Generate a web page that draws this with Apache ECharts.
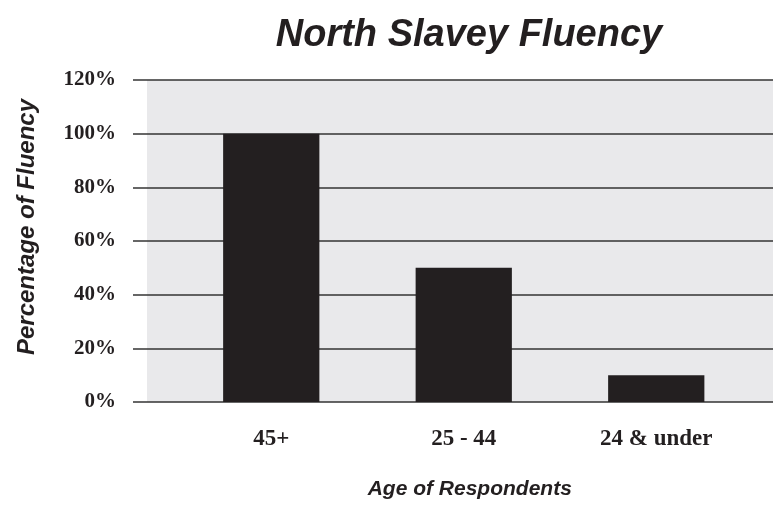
<!DOCTYPE html>
<html>
<head>
<meta charset="utf-8">
<script src="https://cdn.jsdelivr.net/npm/echarts@6/dist/echarts.min.js"></script>
<style>
  html, body { margin: 0; padding: 0; background: #fff; }
  #chart { width: 773px; height: 508px; }
</style>
</head>
<body>
<div id="chart"></div>
<script>
const categories = ['45+', '25 - 44', '24 & under'];
const fluency = [100, 50, 10];
const yTicks = [0, 20, 40, 60, 80, 100, 120];

const ink = '#231f20';
const labelFont = '"Liberation Serif", serif';
const titleFont = '"Liberation Sans", sans-serif';

const chart = echarts.init(document.getElementById('chart'));

const option = {
  animation: false,
  title: {
    text: 'North Slavey Fluency',
    left: 464,
    top: 12,
    textAlign: 'center',
    textStyle: { fontFamily: titleFont, fontSize: 38, fontWeight: 'bold', fontStyle: 'italic', color: ink }
  },
  grid: [
    // gray plot background
    { left: 147, right: 0, top: 80, bottom: 106, show: true, backgroundColor: '#e9e9eb', borderWidth: 0 },
    // horizontal rules + y labels
    { left: 133, right: 0, top: 80, bottom: 106 },
    // bars
    { left: 175, right: 20.5, top: 80, bottom: 106 }
  ],
  xAxis: [
    { gridIndex: 0, type: 'value', show: false },
    { gridIndex: 1, type: 'value', show: false },
    {
      gridIndex: 2, type: 'category', data: categories,
      axisLine: { show: false }, axisTick: { show: false },
      axisLabel: { margin: 26, fontFamily: labelFont, fontSize: 23, fontWeight: 'bold', color: ink },
      name: 'Age of Respondents', nameLocation: 'middle', nameGap: 77,
      nameTextStyle: { fontFamily: titleFont, fontSize: 21, fontWeight: 'bold', fontStyle: 'italic', color: ink, padding: [0, 0, 0, 12] }
    }
  ],
  yAxis: [
    { gridIndex: 0, type: 'value', show: false },
    {
      gridIndex: 1, type: 'value',
      min: yTicks[0], max: yTicks[yTicks.length - 1], interval: yTicks[1] - yTicks[0],
      axisLine: { show: false }, axisTick: { show: false },
      axisLabel: { margin: 17, fontFamily: labelFont, fontSize: 21, fontWeight: 'bold', color: ink, formatter: '{value}%' },
      splitLine: { lineStyle: { color: '#333', width: 1.5 } },
      name: 'Percentage of Fluency', nameLocation: 'middle', nameGap: 94, nameRotate: 90,
      nameTextStyle: { fontFamily: titleFont, fontSize: 24, fontWeight: 'bold', fontStyle: 'italic', color: ink, padding: [0, 0, 0, 28] }
    },
    { gridIndex: 2, type: 'value', min: yTicks[0], max: yTicks[yTicks.length - 1], show: false }
  ],
  series: [
    {
      type: 'bar',
      xAxisIndex: 2, yAxisIndex: 2,
      data: fluency,
      barWidth: '50%',
      itemStyle: { color: ink },
      z: 5
    }
  ]
};

chart.setOption(option);
</script>
</body>
</html>
